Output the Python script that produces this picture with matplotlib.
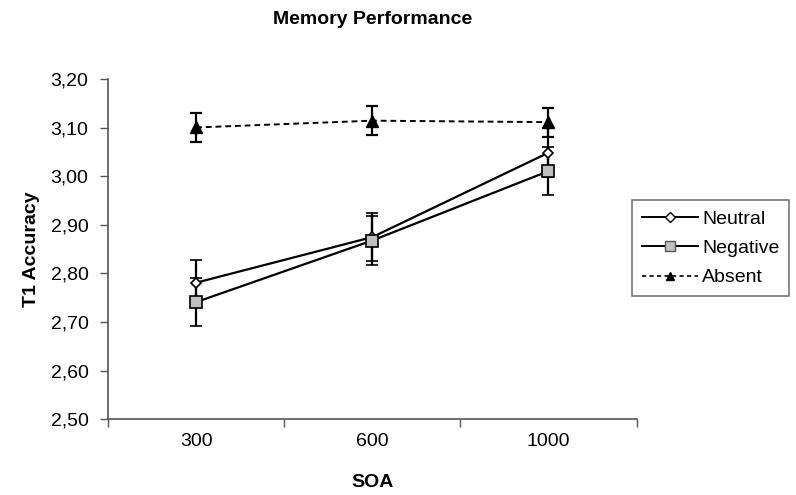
import matplotlib
matplotlib.use("Agg")
import matplotlib.pyplot as plt
from matplotlib.ticker import FuncFormatter
from matplotlib.lines import Line2D
import numpy as np

plt.rcParams['font.family'] = ['Liberation Sans', 'DejaVu Sans']

soa = ['300', '600', '1000']
neutral = [2.781, 2.875, 3.049]
neutral_err = [0.047, 0.05, 0.05]
negative = [2.741, 2.868, 3.011]
negative_err = [0.05, 0.05, 0.05]
absent = [3.101, 3.115, 3.112]
absent_err = [0.03, 0.03, 0.03]

x = np.arange(len(soa))

fig = plt.figure(figsize=(7.96, 4.95), dpi=100)
ax = fig.add_axes([0.1357, 0.1535, 0.664, 0.686])

ax.errorbar(x, neutral, yerr=neutral_err, color='black', lw=1.6, marker='D',
            ms=5.5, mfc='white', mec='black', mew=1.2, capsize=4, elinewidth=1.6,
            capthick=1.6, zorder=3)
ax.errorbar(x, negative, yerr=negative_err, color='black', lw=1.6, marker='s',
            ms=8, mfc='#c0c0c0', mec='black', mew=1.2, capsize=4, elinewidth=1.6,
            capthick=1.6, zorder=3)
ax.errorbar(x, absent, yerr=absent_err, color='black', lw=1.4, ls='--',
            dashes=(3, 2), marker='^', ms=8, mfc='black', mec='black',
            capsize=4, elinewidth=1.6, capthick=1.6, zorder=3)

ax.set_xlim(-0.5, 2.5)
ax.set_ylim(2.5, 3.2)
ax.set_yticks(np.arange(2.5, 3.21, 0.1))
ax.yaxis.set_major_formatter(FuncFormatter(lambda v, p: f'{v:.2f}'.replace('.', ',')))

ax.set_xticks([-0.5, 0.5, 1.5, 2.5])
ax.set_xticklabels([])
ax.set_xticks(x, minor=True)
ax.set_xticklabels(soa, minor=True)
ax.tick_params(axis='x', which='minor', length=0, pad=10, labelsize=14)
ax.tick_params(axis='x', which='major', direction='out', length=6, width=1, color='#555555')
ax.tick_params(axis='y', direction='out', length=6, width=1, color='#555555', labelsize=14, pad=8)

for s in ['top', 'right']:
    ax.spines[s].set_visible(False)
for s in ['left', 'bottom']:
    ax.spines[s].set_color('#555555')
    ax.spines[s].set_linewidth(1.2)

ax.set_xlabel('SOA', fontsize=14, fontweight='bold', labelpad=17)
ax.set_ylabel('T1 Accuracy', fontsize=14, fontweight='bold', labelpad=8)
fig.text(0.468, 0.96, 'Memory Performance', fontsize=14, fontweight='bold',
         ha='center', va='center')

handles = [
    Line2D([], [], color='black', lw=1.4, marker='D', ms=5, mfc='white', mec='black'),
    Line2D([], [], color='black', lw=1.4, marker='s', ms=6.5, mfc='#c0c0c0', mec='#555555'),
    Line2D([], [], color='black', lw=1.2, ls='--', dashes=(2.5, 2), marker='^', ms=6,
           mfc='black', mec='black'),
]
leg = fig.legend(handles, ['Neutral', 'Negative', 'Absent'], loc='upper left',
                 bbox_to_anchor=(0.794, 0.595), borderaxespad=0, frameon=True,
                 fancybox=False, edgecolor='#555555', fontsize=14, handlelength=2.9,
                 borderpad=0.5, labelspacing=0.6, handletextpad=0.2)
leg.get_frame().set_linewidth(1.2)

fig.savefig('out.png', dpi=100)
